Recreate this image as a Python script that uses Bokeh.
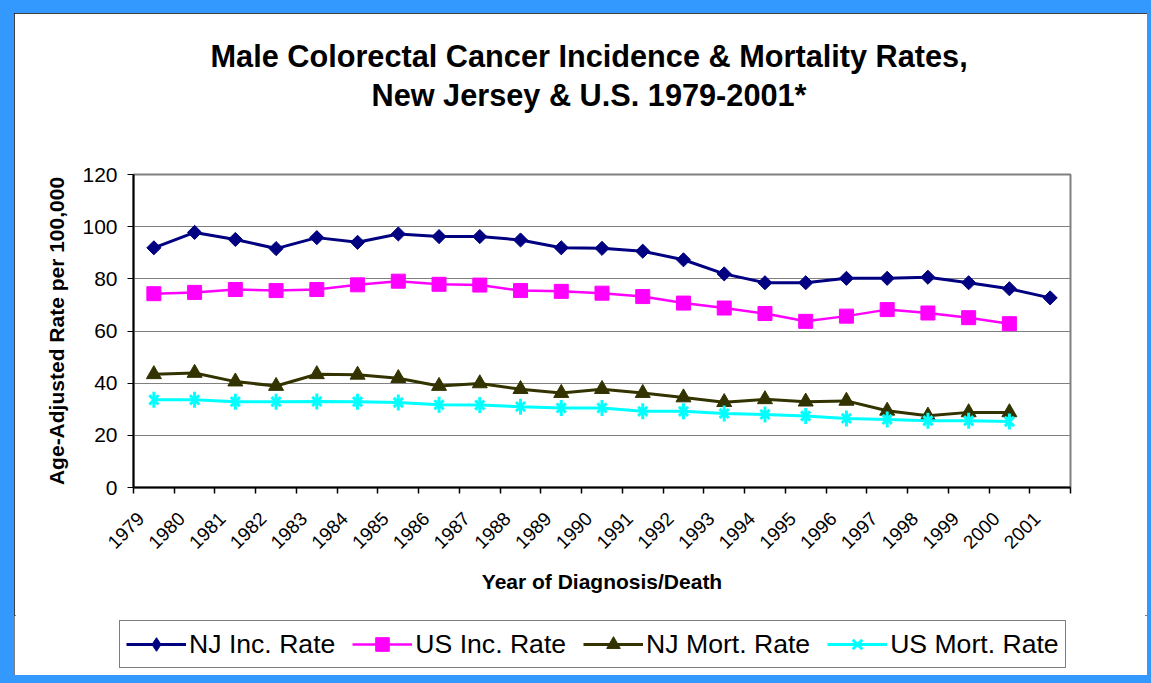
import numpy as np
from math import pi
from bokeh.plotting import figure
from bokeh.layouts import column
from bokeh.models import (Range1d, FixedTicker, Legend, LegendItem, Title,
                          GlobalInlineStyleSheet)
from bokeh.embed import file_html
from bokeh.resources import INLINE

# ---- data ----
years = [str(y) for y in range(1979, 2002)]
nj_inc = [91.9, 97.8, 95.1, 91.6, 95.8, 94.0, 97.2, 96.2, 96.2, 94.9, 91.9, 91.7,
          90.6, 87.3, 81.9, 78.5, 78.5, 80.2, 80.2, 80.6, 78.5, 76.2, 72.7]
us_inc = [74.3, 74.8, 75.9, 75.5, 75.9, 77.7, 79.1, 77.9, 77.6, 75.5, 75.2, 74.5,
          73.2, 70.7, 68.8, 66.7, 63.7, 65.7, 68.2, 66.9, 65.1, 62.8]
nj_mort = [43.4, 43.9, 40.6, 38.9, 43.4, 43.2, 41.9, 38.9, 39.9, 37.7, 36.2, 37.7,
           36.2, 34.5, 32.7, 33.8, 32.9, 33.2, 29.4, 27.5, 28.8, 28.8]
us_mort = [33.6, 33.6, 32.9, 32.9, 33.0, 32.9, 32.6, 31.7, 31.6, 31.0, 30.5, 30.5,
           29.2, 29.2, 28.4, 28.0, 27.4, 26.5, 26.1, 25.6, 25.6, 25.3]
y_ticks = [0, 20, 40, 60, 80, 100, 120]
series_names = ["NJ Inc. Rate", "US Inc. Rate", "NJ Mort. Rate", "US Mort. Rate"]
title_lines = ["Male Colorectal Cancer Incidence & Mortality Rates,",
               "New Jersey & U.S. 1979-2001*"]

FONT = "Liberation Sans"
NAVY, MAGENTA, OLIVE, CYAN = "#000080", "#FF00FF", "#333300", "#00FFFF"
FRAME_BLUE = "#3399FF"

centers = np.arange(len(years)) + 0.5     # category centres (data points)
label_pos = np.arange(len(years)) + 0.18  # where the slanted labels end
edges = list(range(len(years) + 1))       # category boundaries (tick marks)
n = len(us_inc)


def add_series(fig, visible=True, nj_marker=("square", pi / 4, 10)):
    """Draw the four series on fig; returns renderer groups per series."""
    out = []
    mk, ang, sz = nj_marker
    l1 = fig.line(centers, nj_inc, line_color=NAVY, line_width=3)
    m1 = fig.scatter(centers, nj_inc, marker=mk, angle=ang, size=sz,
                     fill_color=NAVY, line_color=NAVY)
    out.append([l1, m1])
    l2 = fig.line(centers[:n], us_inc, line_color=MAGENTA, line_width=2.5)
    m2 = fig.scatter(centers[:n], us_inc, marker="square", size=14,
                     fill_color=MAGENTA, line_color=MAGENTA)
    out.append([l2, m2])
    l3 = fig.line(centers[:n], nj_mort, line_color=OLIVE, line_width=3)
    m3 = fig.scatter(centers[:n], nj_mort, marker="triangle", size=15,
                     fill_color=OLIVE, line_color=OLIVE)
    out.append([l3, m3])
    l4 = fig.line(centers[:n], us_mort, line_color=CYAN, line_width=3)
    m4 = fig.scatter(centers[:n], us_mort, marker="x", size=13,
                     line_color=CYAN, line_width=3)
    v4 = fig.scatter(centers[:n], us_mort, marker="dash", angle=pi / 2, size=16,
                     line_color=CYAN, line_width=3)
    out.append([l4, m4, v4])
    for grp in out:
        for r in grp:
            r.visible = visible
    return out


# ---------------- main chart ----------------
p = figure(width=1133, height=602, output_backend="svg", toolbar_location=None,
           title=None,
           x_range=Range1d(0, len(years)), y_range=Range1d(0, 120),
           min_border_left=119, min_border_right=77,
           min_border_top=161, min_border_bottom=128)
p.frame_align = False
p.border_fill_color = "white"
p.background_fill_color = "white"
p.outline_line_color = "#808080"
p.outline_line_width = 2

add_series(p)

xa = p.xaxis[0]
xa.ticker = FixedTicker(ticks=list(label_pos), minor_ticks=edges)
xa.major_label_overrides = {float(c): y for c, y in zip(label_pos, years)}
xa.major_label_orientation = pi / 4
xa.major_tick_out = 0
xa.major_tick_in = 0
xa.minor_tick_out = 6
xa.minor_tick_in = 0
xa.minor_tick_line_color = "black"
xa.minor_tick_line_width = 1.5
xa.axis_line_color = "black"
xa.axis_line_width = 2
xa.major_label_text_font = FONT
xa.major_label_text_font_size = "19px"
xa.major_label_text_color = "black"
xa.major_label_standoff = 22
xa.axis_label = "Year of Diagnosis/Death"
xa.axis_label_text_font = FONT
xa.axis_label_text_font_size = "21px"
xa.axis_label_text_font_style = "bold"
xa.axis_label_text_color = "black"
xa.axis_label_standoff = 12

ya = p.yaxis[0]
ya.ticker = FixedTicker(ticks=y_ticks)
ya.minor_tick_line_color = None
ya.major_tick_out = 6
ya.major_tick_in = 0
ya.major_tick_line_color = "black"
ya.axis_line_color = "black"
ya.axis_line_width = 2
ya.major_label_text_font = FONT
ya.major_label_text_font_size = "21px"
ya.major_label_text_color = "black"
ya.major_label_standoff = 10
ya.axis_label = "Age-Adjusted Rate per 100,000"
ya.axis_label_text_font = FONT
ya.axis_label_text_font_size = "21px"
ya.axis_label_text_font_style = "bold"
ya.axis_label_text_color = "black"
ya.axis_label_standoff = 11

p.xgrid.visible = False
p.ygrid.ticker = FixedTicker(ticks=y_ticks)
p.ygrid.grid_line_color = "#808080"
p.ygrid.grid_line_width = 1

# title: two lines; an empty spacer title keeps them away from the plot
spacer = Title(text=" ", text_font_size="1px", standoff=57)
t2 = Title(text=title_lines[1], align="left", offset=238, standoff=4,
           text_font=FONT, text_font_size="30.7px", text_font_style="bold",
           text_color="black")
t1 = Title(text=title_lines[0], align="left", offset=77, standoff=0,
           text_font=FONT, text_font_size="30.7px", text_font_style="bold",
           text_color="black")
p.add_layout(spacer, "above")
p.add_layout(t2, "above")
p.add_layout(t1, "above")

# ---------------- legend strip ----------------
q = figure(width=1133, height=60, output_backend="svg", toolbar_location=None,
           title=None, x_axis_type=None, y_axis_type=None,
           x_range=Range1d(0, 1), y_range=Range1d(0, 1),
           min_border=0, min_border_left=0, min_border_right=0,
           min_border_top=0, min_border_bottom=0)
q.frame_align = False
q.border_fill_color = "white"
q.background_fill_color = "white"
q.outline_line_color = None
q.grid.visible = False
# legend proxies (hidden); the legend shows a narrow diamond like the original
groups = add_series(q, visible=False, nj_marker=("diamond", 0, 10))

legend = Legend(items=[LegendItem(label=name, renderers=grp)
                       for name, grp in zip(series_names, groups)],
                orientation="horizontal", location=(105, 7), margin=0,
                label_text_font=FONT, label_text_font_size="26.6px",
                label_text_color="black",
                glyph_width=60, glyph_height=34, spacing=17, label_standoff=3,
                padding=6, border_line_color="black", border_line_width=1,
                background_fill_color="white", background_fill_alpha=1)
q.add_layout(legend)

page = column(p, q, spacing=0, margin=(13, 4, 8, 14))
page.styles = {"outline": "2px solid black", "outline-offset": "-2px",
               "background-color": "white"}
page.stylesheets = [GlobalInlineStyleSheet(
    css="html, body { background: %s !important; }" % FRAME_BLUE)]

open("out.html", "w").write(file_html(page, INLINE))
